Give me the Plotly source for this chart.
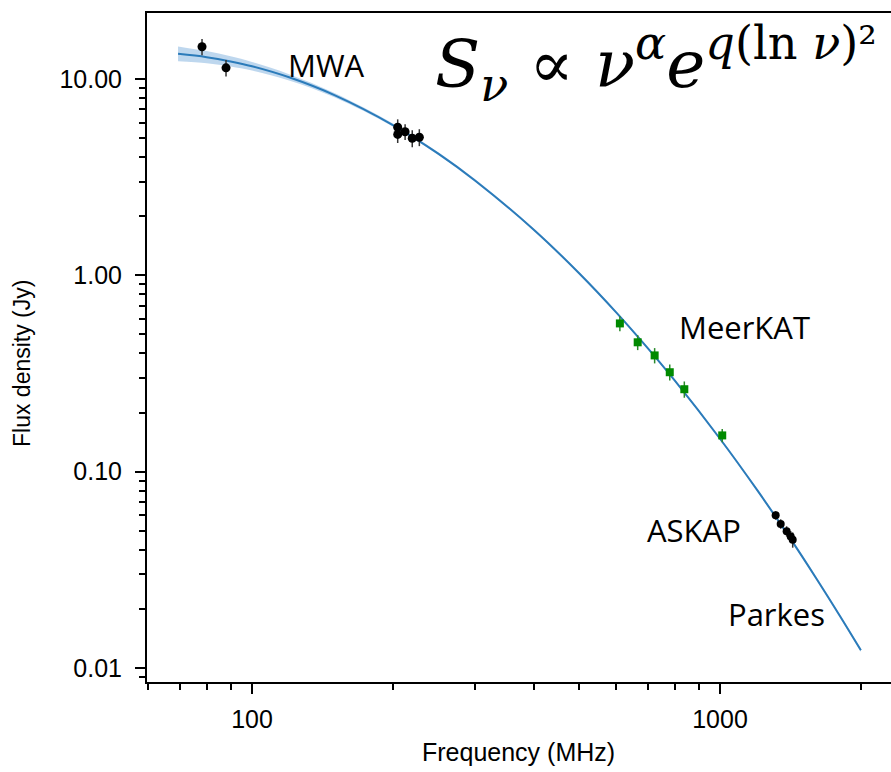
import plotly.graph_objects as go

# ---- data ----
curve_freq = [69.5, 80, 90, 100, 120, 150, 200, 250, 300, 400, 500, 600, 700, 800,
              1000, 1200, 1400, 1600, 1800, 2000]
curve_flux = [13.43, 12.92, 12.29, 11.61, 10.20, 8.28, 5.83, 4.17, 3.035, 1.708, 1.025,
              0.648, 0.427, 0.2915, 0.1471, 0.0807, 0.0472, 0.0290, 0.01857, 0.01231]
band_dex = [0.038, 0.031, 0.026, 0.022, 0.016, 0.011, 0.008, 0.007, 0.007, 0.006, 0.006,
            0.006, 0.006, 0.006, 0.006, 0.007, 0.007, 0.008, 0.008, 0.009]

mwa_freq = [78.2, 88.0, 204.8, 204.8, 212.4, 220.0, 227.8]
mwa_flux = [14.6, 11.4, 5.68, 5.22, 5.39, 4.99, 5.05]
mwa_err = [1.4, 1.1, 0.55, 0.5, 0.5, 0.5, 0.5]

meerkat_freq = [611, 667, 725, 781, 839, 1011]
meerkat_flux = [0.569, 0.456, 0.391, 0.321, 0.263, 0.153]
meerkat_err = [0.05, 0.04, 0.035, 0.03, 0.025, 0.012]

askap_freq = [1315, 1348, 1388, 1416, 1430]
askap_flux = [0.0599, 0.0542, 0.0497, 0.0468, 0.0450]
askap_err = [0.003, 0.003, 0.003, 0.003, 0.004]

y_tickvals = [0.01, 0.1, 1, 10]
y_ticktext = ["0.01", "0.10", "1.00", "10.00"]
x_tickvals = [100, 1000]
x_ticktext = ["100", "1000"]
x_minor = [60, 70, 80, 90, 200, 300, 400, 500, 600, 700, 800, 900, 2000]
y_minor = [0.009] + [m * d for d in (0.01, 0.1, 1) for m in range(2, 10)]

labels = ["MWA", "MeerKAT", "ASKAP", "Parkes"]
label_px = [(326, 65), (744, 327), (694, 530), (776, 614)]

# ---- layout geometry ----
W, H = 891, 772
L, R, T, B = 147, 0, 13, 90
PW, PH = W - L - R, H - T - B


def px2paper(px, py):
    return (px - L) / PW, (H - B - py) / PH


band_lo = [f * 10 ** (-w) for f, w in zip(curve_flux, band_dex)]
band_hi = [f * 10 ** (w) for f, w in zip(curve_flux, band_dex)]

fig = go.Figure()
fig.add_trace(go.Scatter(x=curve_freq, y=band_lo, mode="lines", line=dict(width=0, shape="spline"),
                         hoverinfo="skip", showlegend=False))
fig.add_trace(go.Scatter(x=curve_freq, y=band_hi, mode="lines", line=dict(width=0, shape="spline"),
                         fill="tonexty", fillcolor="rgba(70,140,205,0.35)",
                         hoverinfo="skip", showlegend=False))
fig.add_trace(go.Scatter(x=curve_freq, y=curve_flux, mode="lines",
                         line=dict(color="#2b7bba", width=2, shape="spline"), showlegend=False))

fig.add_trace(go.Scatter(x=mwa_freq, y=mwa_flux, mode="markers",
                         marker=dict(symbol="circle", size=9, color="black"),
                         error_y=dict(type="data", array=mwa_err, color="#333333", thickness=1.5, width=0),
                         showlegend=False))
fig.add_trace(go.Scatter(x=meerkat_freq, y=meerkat_flux, mode="markers",
                         marker=dict(symbol="square", size=8, color="#008a00"),
                         error_y=dict(type="data", array=meerkat_err, color="#2a8a2a", thickness=1.5, width=0),
                         showlegend=False))
fig.add_trace(go.Scatter(x=askap_freq, y=askap_flux, mode="markers",
                         marker=dict(symbol="circle", size=8, color="black"),
                         error_y=dict(type="data", array=askap_err, color="#333333", thickness=1.5, width=0),
                         showlegend=False))

annotations = []
for text, (px, py) in zip(labels, label_px):
    xp, yp = px2paper(px, py)
    annotations.append(dict(x=xp, y=yp, xref="paper", yref="paper", text=text, showarrow=False,
                            xanchor="center", yanchor="middle",
                            font=dict(family="Open Sans, Noto Sans, sans-serif", size=31, color="black")))

# formula
fx, fy = px2paper(433, 64)
annotations.append(dict(
    x=fx, y=fy, xref="paper", yref="paper", showarrow=False, xanchor="left", yanchor="middle",
    text="<i>S</i><sub><i>ν</i></sub> ∝ <i>ν</i><sup><i>α</i></sup><i>e</i><sup><i>q</i>(ln <i>ν</i>)²</sup>",
    font=dict(family="DejaVu Serif, Liberation Serif, serif", size=66, color="black")))

# axis titles
tx, ty = px2paper(518, 752)
annotations.append(dict(x=tx, y=ty, xref="paper", yref="paper", text="Frequency (MHz)", showarrow=False,
                        xanchor="center", yanchor="middle",
                        font=dict(family="Liberation Sans, Arial, sans-serif", size=25, color="black")))
tx, ty = px2paper(22, 364)
annotations.append(dict(x=tx, y=ty, xref="paper", yref="paper", text="Flux density (Jy)", showarrow=False,
                        xanchor="center", yanchor="middle", textangle=-90,
                        font=dict(family="Liberation Sans, Arial, sans-serif", size=23, color="black")))

fig.update_layout(
    width=W, height=H, margin=dict(l=L, r=R, t=T, b=B),
    paper_bgcolor="white", plot_bgcolor="white",
    annotations=annotations,
    xaxis=dict(type="log", range=[1.77564, 3.36538], showgrid=False, zeroline=False,
               showline=True, linecolor="black", linewidth=2, mirror=True,
               ticks="outside", ticklen=10, tickwidth=2, tickcolor="black",
               tickvals=x_tickvals, ticktext=x_ticktext, ticklabelstandoff=4,
               tickfont=dict(family="Liberation Sans, Arial, sans-serif", size=25, color="black"),
               minor=dict(tickvals=x_minor, ticks="outside", ticklen=6, tickwidth=1.5, tickcolor="black")),
    yaxis=dict(type="log", range=[-2.07132, 1.33622], showgrid=False, zeroline=False,
               showline=True, linecolor="black", linewidth=2, mirror=False,
               ticks="outside", ticklen=10, tickwidth=2, tickcolor="black",
               tickvals=y_tickvals, ticktext=y_ticktext, ticklabelstandoff=8,
               tickfont=dict(family="Liberation Sans, Arial, sans-serif", size=25, color="black"),
               minor=dict(tickvals=y_minor, ticks="outside", ticklen=6, tickwidth=1.5, tickcolor="black")),
)

fig.write_html("out.html")
